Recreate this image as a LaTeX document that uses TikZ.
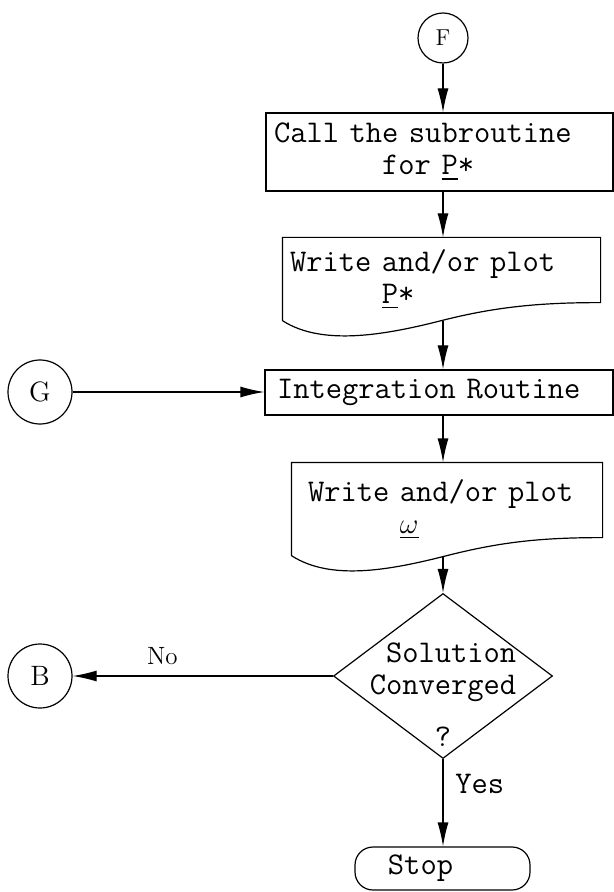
\documentclass[tikz,border=0pt]{standalone}
\usepackage{fontspec}
\usepackage{tikz}
\usepackage{amsmath}
\usetikzlibrary{shapes.geometric,arrows.meta,calc}

% box with a wavy (document) bottom edge
\newcommand{\wavebox}[1]{%
  \draw (#1.south west) -- (#1.north west) -- (#1.north east) -- ($(#1.south east)+(0,-18)$)
    .. controls +(-60,0) and +(55,-14) .. (#1.south)
    .. controls +(-55,14) and +(40,26) .. (#1.south west);}

\begin{document}
\begin{tikzpicture}[x=0.5pt, y=-0.5pt, semithick,
    >={Latex[length=12pt,width=5.5pt]},
    every node/.style={font=\fontsize{15.8}{16}\selectfont\ttfamily},
    conn/.style={->},
    procbox/.style={draw, align=left, inner ysep=0pt},
    docbox/.style={align=left, inner ysep=0pt},
    decbox/.style={diamond, draw, minimum width=109.5pt, minimum height=82.5pt, inner sep=0pt},
    stopbox/.style={draw, rounded corners=9pt, minimum width=87.5pt, minimum height=21.5pt},
    conncirc/.style={circle, draw, inner sep=0pt, font=\fontsize{14}{16}\selectfont\rmfamily}]
        \useasboundingbox (0,0) rectangle (614,892);

        % Entry connector
        \node[conncirc, minimum size=25pt, font=\fontsize{11.5}{13}\selectfont\rmfamily] (f) at (443,38) {F};

        % Subroutine call
        \node[procbox, inner xsep=4pt, text width=165.5pt, minimum height=39pt] (call) at (439.5,152)
            {Call the subroutine\\\phantom{Call th}for \underline{P}*};

        % Output of P*
        \node[docbox, inner xsep=3.5pt, text width=151.5pt, minimum height=41pt] (wp) at (441.5,279)
            {Write and/or plot\\\phantom{Write\ }\underline{P}*};
        \wavebox{wp}

        % Integration
        \node[conncirc, minimum size=32pt] (g) at (40,392) {G};
        \node[procbox, inner xsep=6pt, text width=162pt, minimum height=22.5pt] (integ) at (439,392.5)
            {Integration Routine};

        % Output of omega
        \node[docbox, inner xsep=8pt, text width=139pt, minimum height=46pt] (ww) at (447,509)
            {Write and/or plot\\\phantom{Write\ }$\underline{\omega}$};
        \wavebox{ww}

        % Convergence test
        \node[decbox] (dec) at (443,676) {};
        \node[align=center] (dectext) at (443,695) {\phantom{S}Solution\\Converged\\[10pt]?};
        \node[conncirc, minimum size=32pt] (b) at (40,676) {B};

        % End
        \node[stopbox] (stop) at (442.5,868.5) {Stop\hspace*{22pt}};

        % Arrows
        \draw[conn] (f) -- (call.north -| f);
        \draw[conn] (call.south -| f) -- (wp.north -| f);
        \draw[conn] (wp.south -| f) -- (integ.north -| f);
        \draw[conn] (g) -- (g -| integ.west);
        \draw[conn] (integ.south -| f) -- (ww.north -| f);
        \draw[conn] (ww.south -| f) -- (dec.north);
        \draw[conn] (dec.west) -- (b) node[pos=0.655, above=2pt, font=\fontsize{12.5}{14}\selectfont\rmfamily] {No};
        \draw[conn] (dec.south) -- (stop.north -| dec) node[pos=0.28, right=2.5pt] {Yes};
      \end{tikzpicture}
\end{document}
